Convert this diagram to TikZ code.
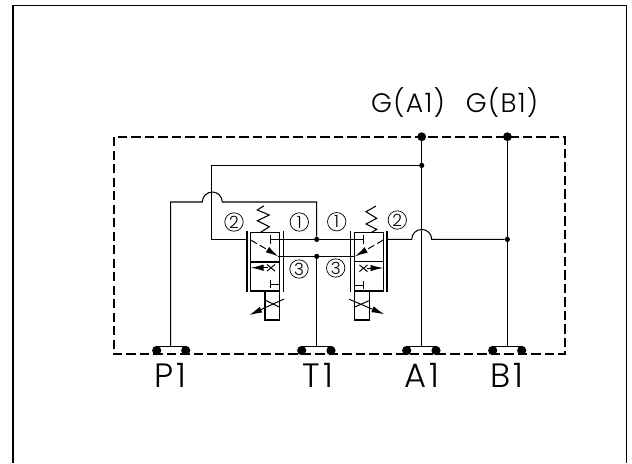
\documentclass[tikz,border=0pt]{standalone}
\usepackage{fontspec}
\setmainfont{Poppins Light}
\newfontfamily\widefont[LetterSpace=9]{Poppins Light}
\newfontfamily\gaugefont[LetterSpace=5]{Poppins Light}
\usetikzlibrary{arrows.meta}
\tikzset{
	pipe/.style={black, line width=0.75pt},
	tick/.style={black, line width=0.7pt},
	bigdot/.style={circle, fill=black, minimum size=0.22cm},
	smalldot/.style={circle, fill=black, minimum size=0.13cm},
	portdot/.style={circle, fill=black, minimum size=0.23cm},
	portlabel/.style={font=\widefont\fontsize{24}{24}\selectfont},
	gaugelabel/.style={font=\gaugefont\fontsize{19}{19}\selectfont},
	circled/.style={circle, draw=black, line width=0.5pt, minimum size=0.46cm, font=\fontsize{12}{12}\selectfont},
	flow/.style={tick, -{Latex[length=3.2mm,width=1.6mm]}},
}
\begin{document}
\begin{tikzpicture}[x=0.025cm, y=0.025cm]
	\tikzstyle{every node}+=[inner sep=0pt]
	\useasboundingbox (0,0) rectangle (632,-463);
	% outer frame, open at the bottom
	\coordinate (frameBL) at (13,-463);
	\coordinate (frameTL) at (13,-5.3);
	\coordinate (frameTR) at (626.7,-5.3);
	\coordinate (frameBR) at (626.7,-463);
	\draw [black, line width=1pt] (frameBL) -- (frameTL) -- (frameTR) -- (frameBR);
	% manifold outline
	\coordinate (boxTL) at (114,-137);
	\coordinate (boxBR) at (565,-354);
	\draw [black, line width=0.85pt, dash pattern=on 6.6pt off 3pt] (boxTL) rectangle (boxBR);
	% ports
	\node [portdot] (p1l) at (156.7,-350.5) {};
	\node [portdot] (p1r) at (185.7,-350.5) {};
	\node [portdot] (t1l) at (301.7,-350.5) {};
	\node [portdot] (t1r) at (331,-350.5) {};
	\node [portdot] (a1l) at (406.7,-350.5) {};
	\node [portdot] (a1r) at (436,-350.5) {};
	\node [portdot] (b1l) at (492.7,-350.5) {};
	\node [portdot] (b1r) at (521.7,-350.5) {};
	\coordinate (p1) at (170.7,-346.7);
	\coordinate (t1) at (316.7,-346.7);
	\coordinate (a1) at (421.7,-346.7);
	\coordinate (b1) at (507.4,-346.7);
	\draw [pipe] (p1l.center |- p1) -- (p1r.center |- p1);
	\draw [pipe] (t1l.center |- t1) -- (t1r.center |- t1);
	\draw [pipe] (a1l.center |- a1) -- (a1r.center |- a1);
	\draw [pipe] (b1l.center |- b1) -- (b1r.center |- b1);
	\node [portlabel] (p1text) at (170,-375.8) {P1};
	\node [portlabel] (t1text) at (318,-375.8) {T1};
	\node [portlabel] (a1text) at (421.7,-375.8) {A1};
	\node [portlabel] (b1text) at (507,-375.8) {B1};
	% gauge points
	\node [bigdot] (ga) at (421.7,-136.7) {};
	\node [bigdot] (gb) at (507.4,-136.7) {};
	\node [gaugelabel] (gatext) at (408,-102.5) {G(A1)};
	\node [gaugelabel] (gbtext) at (502,-102.5) {G(B1)};
	% junctions
	\node [smalldot] (j1) at (421.7,-165.4) {};
	\node [smalldot] (j2) at (316.7,-239.4) {};
	\node [smalldot] (j3) at (316.7,-256.4) {};
	\node [smalldot] (j4) at (507.4,-239.4) {};
	% main lines
	\draw [pipe] (ga) -- (a1);
	\draw [pipe] (gb) -- (b1);
	\draw [pipe] (j3) -- (t1);
	\coordinate (c1) at (211.7,-165.4);
	\coordinate (c2) at (211.7,-239.4);
	\coordinate (lport2) at (247,-239.4);
	\draw [pipe] (j1) -- (c1) -- (c2) -- (lport2);
	\coordinate (c3) at (170.7,-202);
	\coordinate (c4) at (316.7,-202);
	\draw [pipe] (p1) -- (c3) -- (202.3,-202) arc (180:0:10) -- (c4) -- (j2);
	% valve ports
	\coordinate (ltee) at (270.7,-239.4);
	\coordinate (rtee) at (363.3,-239.4);
	\draw [pipe] (ltee) -- (rtee);
	\draw [pipe] (278.3,-256.4) -- (355,-256.4);
	\coordinate (rport2) at (387,-239.4);
	\draw [pipe] (rport2) -- (411.7,-239.4) arc (180:0:10) -- (j4);
	% left valve
	\draw [pipe] (250.7,-232.7) rectangle (279.3,-291);
	\draw [pipe] (250.7,-262) -- (279.3,-262);
	\draw [pipe] (247,-231) -- (247,-291.7);
	\draw [pipe] (283.3,-231) -- (283.3,-291.7);
	\draw [pipe] (265,-291) rectangle (279.3,-320);
	\draw [pipe] (260,-232.7) -- (269.3,-226.7) -- (257.3,-220.7) -- (269.3,-215) -- (257.3,-210) -- (264,-205.7);
	\draw [tick] (270.7,-235) -- (270.7,-243.5);
	\draw [tick] (270.7,-280) -- (270.7,-288);
	\draw [tick] (270.7,-284) -- (279.3,-284);
	\draw [tick] (267,-264.5) -- (275,-271);
	\draw [tick] (275,-264.5) -- (267,-271);
	\draw [flow] (267.5,-267.7) -- (250.7,-267.7);
	\draw [tick, dash pattern=on 5pt off 2.5pt] (250.7,-240) -- (268,-250);
	\draw [flow] (268,-250) -- (278.3,-256.4);
	\draw [tick] (265,-300) -- (279.3,-307);
	\draw [flow] (284,-299) -- (249.3,-315);
	% right valve
	\draw [pipe] (354.7,-232.3) rectangle (383.3,-291);
	\draw [pipe] (354.7,-261.7) -- (383.3,-261.7);
	\draw [pipe] (350.7,-231) -- (350.7,-291.7);
	\draw [pipe] (387,-231) -- (387,-291.7);
	\draw [pipe] (354.7,-291) rectangle (369.3,-320);
	\draw [pipe] (371.7,-232.3) -- (376.7,-229.3) -- (366,-224) -- (376.7,-218.3) -- (366,-211.7) -- (376,-206);
	\draw [tick] (363.3,-235) -- (363.3,-243.5);
	\draw [tick] (363.3,-281) -- (363.3,-289);
	\draw [tick] (354.7,-285) -- (363.3,-285);
	\draw [tick] (359.5,-265) -- (367.5,-271.5);
	\draw [tick] (367.5,-265) -- (359.5,-271.5);
	\draw [flow] (367,-268) -- (383.3,-268);
	\draw [tick, dash pattern=on 5pt off 2.5pt] (383.3,-240) -- (366,-250);
	\draw [flow] (366,-250) -- (355,-256.4);
	\draw [flow] (349.3,-299.3) -- (384.3,-314.3);
	\draw [tick] (369,-300.7) -- (354.7,-307);
	% port numbers
	\node [circled] (l2) at (234,-222) {2};
	\node [circled] (l1) at (299.3,-222) {1};
	\node [circled] (l3) at (299,-269) {3};
	\node [circled] (r1) at (336.7,-221.7) {1};
	\node [circled] (r2) at (397.3,-220) {2};
	\node [circled] (r3) at (335.7,-268) {3};
\end{tikzpicture}
\end{document}
